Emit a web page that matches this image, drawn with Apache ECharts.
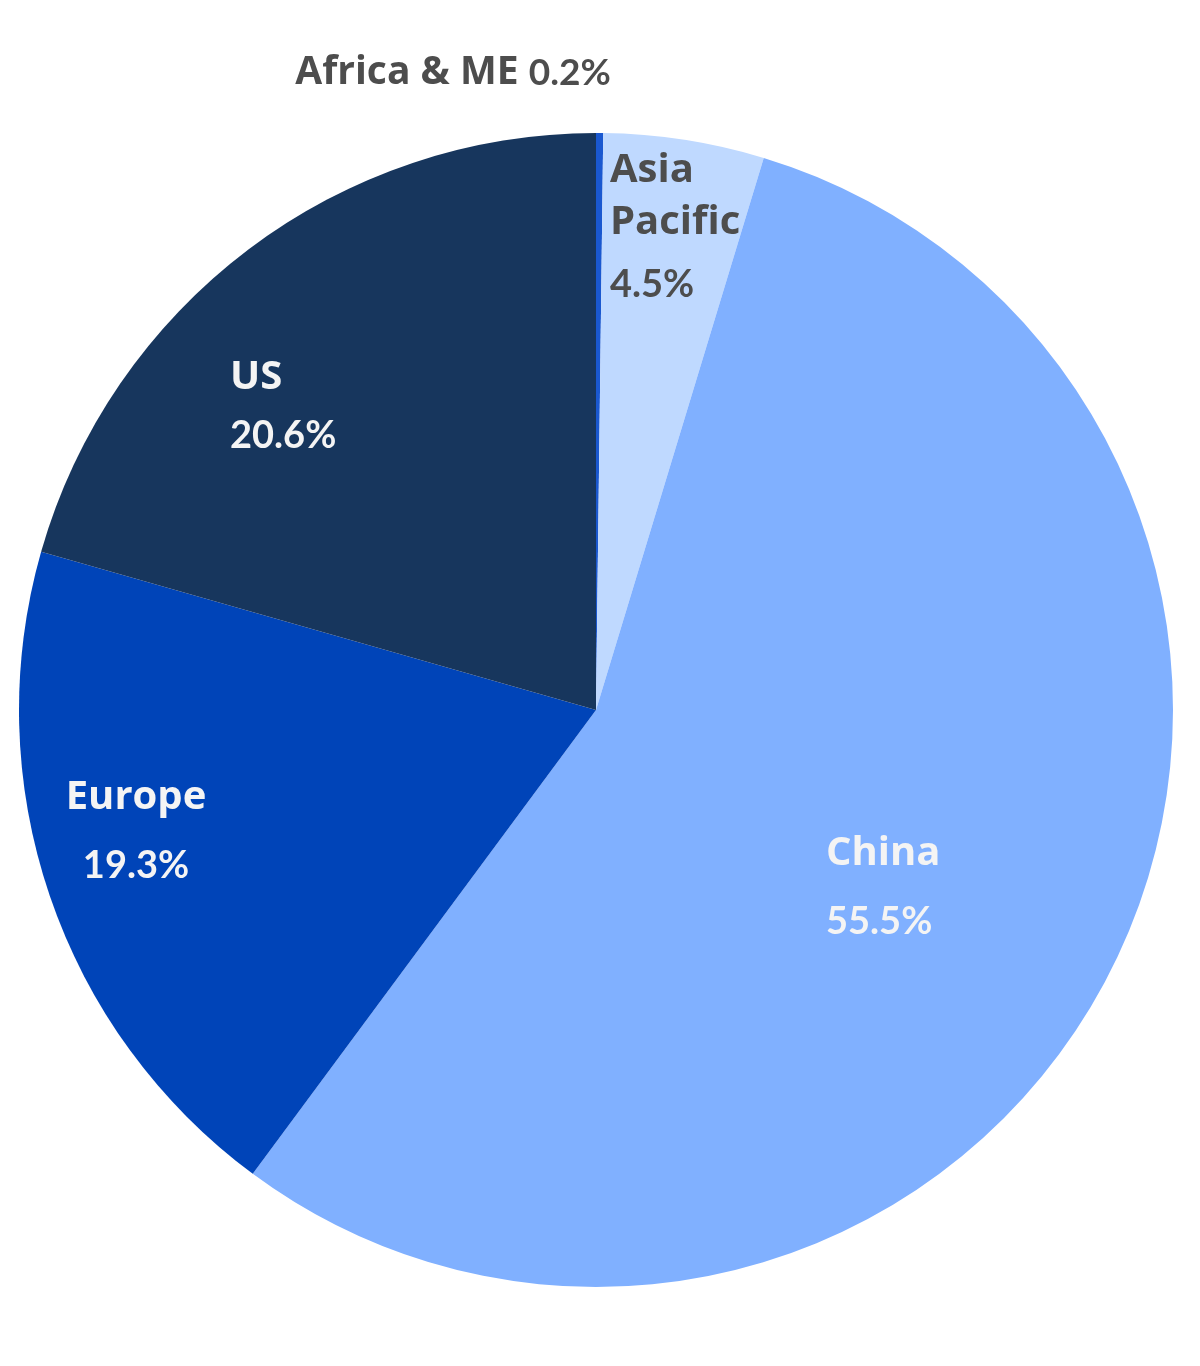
<!DOCTYPE html>
<html><head><meta charset="utf-8">
<script src="https://cdn.jsdelivr.net/npm/echarts@6/dist/echarts.min.js"></script>
<style>html,body{margin:0;padding:0;background:#fff}#c{width:1200px;height:1366px}</style>
</head><body><div id="c"></div>
<script>
const categories = ['Africa & ME', 'Asia Pacific', 'China', 'Europe', 'US'];
const shares = [0.2, 4.5, 55.5, 19.3, 20.6];
const sliceColors = ['#1a58d0', '#bfd9ff', '#80b0ff', '#0044b8', '#17365d'];
const labelNames = ['Africa & ME', 'Asia\nPacific', 'China', 'Europe', 'US'];
// label anchor placement (layout, not data)
const labelAnchor = [
  {x: 453, y: 73, align: 'center'},
  {x: 610, y: 233, align: 'left'},
  {x: 826, y: 888, align: 'left'},
  {x: 136, y: 832, align: 'center'},
  {x: 230, y: 407, align: 'left'}
];
const labelLH = [[40,40],[52,72],[68,68],[68,68],[58,58]];
const labelColor = ['#4d4d4d','#4d4d4d','#f4f4f4','#f4f4f4','#f4f4f4'];

const nameFont = '"Open Sans", sans-serif';
const pctFont = 'Lato, "Open Sans", sans-serif';

const data = categories.map((c, i) => ({
  name: c,
  value: shares[i],
  itemStyle: {color: sliceColors[i]},
  label: {
    formatter: i === 0
      ? '{n|' + labelNames[i] + '\u00a0}{p|' + shares[i].toFixed(1) + '%}'
      : labelNames[i].split('\n').map(s => '{n|' + s + '}').join('\n') + '\n{p|' + shares[i].toFixed(1) + '%}',
    rich: {
      n: {fontFamily: nameFont, fontWeight: 700, fontSize: i === 0 ? 39 : 40, color: labelColor[i], lineHeight: labelLH[i][0]},
      p: {fontFamily: pctFont, fontWeight: 'bold', fontSize: i === 0 ? 37 : 38, color: labelColor[i], lineHeight: labelLH[i][1]}
    },
    align: labelAnchor[i].align
  }
}));

const chart = echarts.init(document.getElementById('c'), null, {renderer: 'canvas'});
chart.setOption({
  animation: false,
  series: [{
    type: 'pie',
    center: [596, 710],
    radius: 577,
    startAngle: 90,
    clockwise: true,
    avoidLabelOverlap: false,
    minAngle: 0,
    data: data,
    label: {show: true, position: 'inside'},
    labelLine: {show: false},
    itemStyle: {borderWidth: 0},
    emphasis: {disabled: true},
    labelLayout: function (p) {
      const a = labelAnchor[p.dataIndex];
      return {x: a.x, y: a.y, align: a.align, verticalAlign: 'middle', hideOverlap: false};
    }
  }]
});
</script></body></html>
